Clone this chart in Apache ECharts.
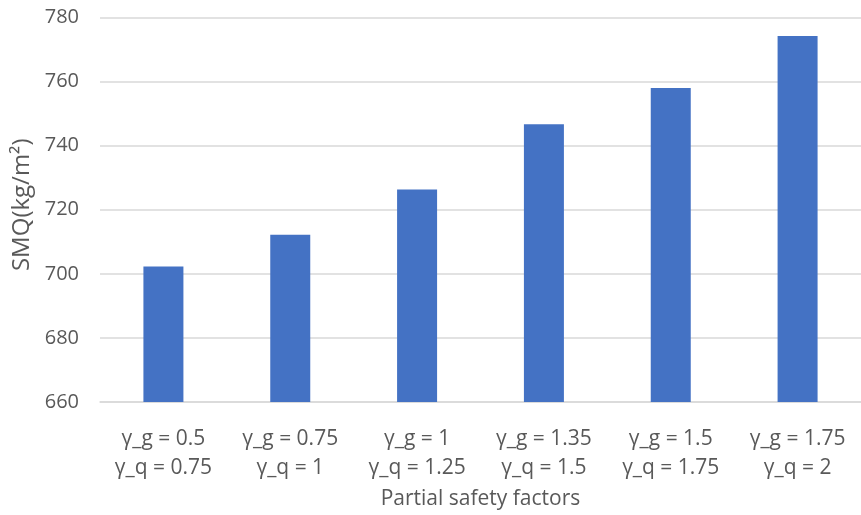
<!DOCTYPE html>
<html>
<head>
<meta charset="utf-8">
<script src="https://cdn.jsdelivr.net/npm/echarts@6/dist/echarts.min.js"></script>
<style>
html,body{margin:0;padding:0;background:#fff;}
#chart{width:861px;height:515px;}
</style>
</head>
<body>
<div id="chart"></div>
<script>
const categories = [
  "γ_g = 0.5\nγ_q = 0.75",
  "γ_g = 0.75\nγ_q = 1",
  "γ_g = 1\nγ_q = 1.25",
  "γ_g = 1.35\nγ_q = 1.5",
  "γ_g = 1.5\nγ_q = 1.75",
  "γ_g = 1.75\nγ_q = 2"
];
const smqValues = [702.3, 712.2, 726.3, 746.7, 758.0, 774.2];
const yMin = 660, yMax = 780, yStep = 20;
const xTitle = "Partial safety factors";
const yTitle = "SMQ(kg/m²)";

const FONT = "Open Sans";
const chart = echarts.init(document.getElementById('chart'), null, {renderer: 'canvas'});
chart.setOption({
  animation: false,
  backgroundColor: '#ffffff',
  grid: {left: 100, width: 766, top: 17.5, bottom: 112, containLabel: false},
  xAxis: {
    type: 'category',
    data: categories,
    name: xTitle,
    nameLocation: 'middle',
    nameGap: 87,
    nameTextStyle: {fontFamily: FONT, fontSize: 21, color: '#595959'},
    axisLine: {show: true, lineStyle: {color: '#d9d9d9', width: 1.5}},
    axisTick: {show: false},
    axisLabel: {fontFamily: FONT, fontSize: 21, color: '#595959', lineHeight: 29, margin: 23, interval: 0}
  },
  yAxis: {
    type: 'value',
    min: yMin, max: yMax, interval: yStep,
    name: yTitle,
    nameLocation: 'middle',
    nameGap: 65,
    nameTextStyle: {fontFamily: FONT, fontSize: 24, color: '#595959', padding: [0, 0, 0, 10]},
    axisLine: {show: false},
    axisTick: {show: false},
    axisLabel: {fontFamily: FONT, fontSize: 20, color: '#595959', margin: 21},
    splitLine: {lineStyle: {color: '#d9d9d9', width: 1.5}}
  },
  series: [{
    type: 'bar',
    data: smqValues,
    barWidth: 40,
    itemStyle: {color: '#4472C4'}
  }]
});
</script>
</body>
</html>
